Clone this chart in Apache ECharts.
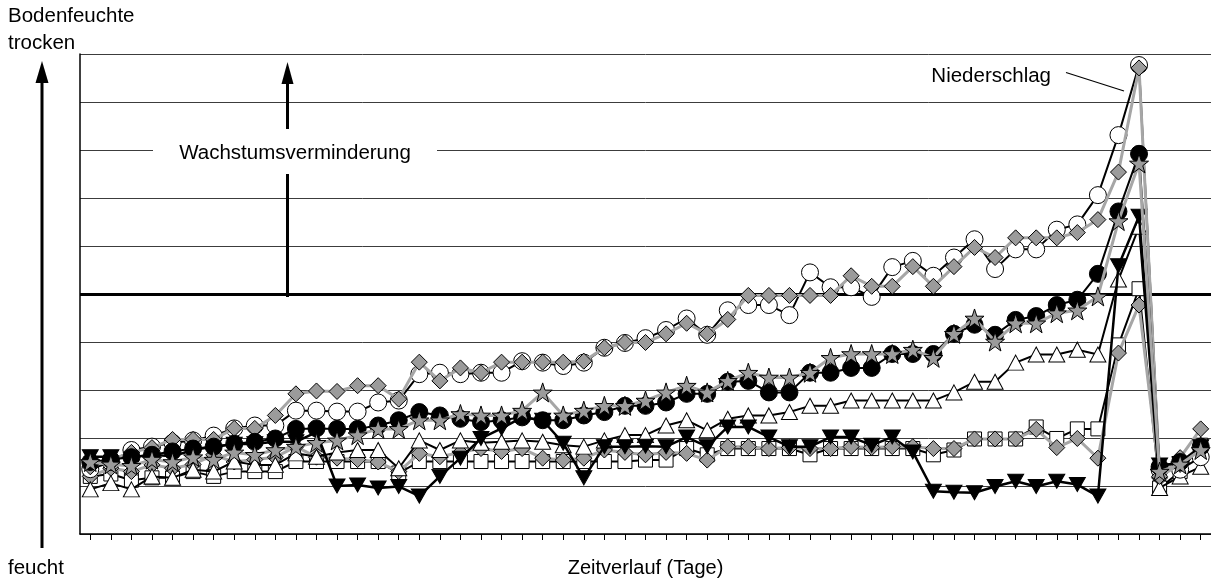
<!DOCTYPE html>
<html>
<head>
<meta charset="utf-8">
<script src="https://cdn.jsdelivr.net/npm/echarts@6/dist/echarts.min.js"></script>
<style>
  html, body { margin: 0; padding: 0; background: #fff; }
  #chart { width: 1211px; height: 583px; }
</style>
</head>
<body>
<div id="chart"></div>
<script>
// Tage (Kategorien der Zeitachse)
const days = Array.from({ length: 55 }, (_, i) => String(i + 1));

// Bodenfeuchte-Verläufe (0 = feucht, 10 = trocken)
const circleOpen = [1.35, 1.5, 1.75, 1.82, 1.9, 1.95, 2.05, 2.2, 2.26, 2.26,
  2.57, 2.57, 2.55, 2.55, 2.74, 2.78, 3.33, 3.36, 3.33, 3.36,
  3.36, 3.6, 3.57, 3.5, 3.57, 3.88, 3.98, 4.08, 4.25, 4.49,
  4.15, 4.66, 4.77, 4.77, 4.56, 5.45, 5.14, 5.14, 4.94, 5.56,
  5.69, 5.38, 5.76, 6.14, 5.52, 5.93, 5.93, 6.34, 6.45, 7.06,
  8.31, 9.77, 1.34, 1.34, 1.6];

const diamondUpper = [1.4, 1.55, 1.7, 1.8, 1.97, 1.97, 1.97, 2.2, 2.2, 2.47,
  2.92, 2.98, 2.97, 3.09, 3.09, 2.81, 3.58, 3.19, 3.46, 3.36,
  3.58, 3.58, 3.58, 3.58, 3.6, 3.88, 3.99, 3.99, 4.17, 4.39,
  4.17, 4.47, 4.97, 4.97, 4.97, 4.97, 4.97, 5.38, 5.16, 5.16,
  5.57, 5.16, 5.57, 5.97, 5.76, 6.17, 6.17, 6.17, 6.28, 6.55,
  7.54, 9.71, 1.2, 1.45, 1.85];

const circleFilled = [1.5, 1.55, 1.6, 1.65, 1.72, 1.78, 1.82, 1.88, 1.92, 1.99,
  2.19, 2.2, 2.19, 2.19, 2.26, 2.37, 2.54, 2.47, 2.40, 2.33,
  2.37, 2.43, 2.37, 2.37, 2.47, 2.54, 2.67, 2.67, 2.74, 2.92,
  2.92, 3.17, 3.19, 2.95, 2.95, 3.36, 3.36, 3.46, 3.46, 3.75,
  3.75, 3.75, 4.17, 4.36, 4.15, 4.46, 4.54, 4.77, 4.88, 5.42,
  6.72, 7.92, 1.4, 1.5, 1.82];

const stars = [1.5, 1.45, 1.42, 1.55, 1.5, 1.6, 1.55, 1.7, 1.65, 1.75,
  1.82, 1.9, 1.95, 2.06, 2.19, 2.19, 2.37, 2.37, 2.50, 2.47,
  2.47, 2.57, 2.95, 2.47, 2.57, 2.67, 2.67, 2.78, 2.95, 3.09,
  2.95, 3.19, 3.36, 3.26, 3.26, 3.36, 3.67, 3.75, 3.75, 3.75,
  3.84, 3.67, 4.17, 4.49, 4.01, 4.39, 4.39, 4.60, 4.66, 4.95,
  6.52, 7.72, 1.3, 1.45, 1.75];

const triUp = [0.93, 1.06, 0.93, 1.2, 1.17, 1.34, 1.3, 1.51, 1.44, 1.44,
  1.68, 1.61, 1.7, 1.75, 1.75, 1.37, 1.95, 1.75, 1.95, 1.9,
  1.92, 1.95, 1.92, 1.85, 1.82, 1.95, 2.06, 2.06, 2.26, 2.37,
  2.16, 2.40, 2.47, 2.47, 2.54, 2.67, 2.67, 2.78, 2.78, 2.78,
  2.78, 2.78, 2.95, 3.17, 3.17, 3.57, 3.74, 3.74, 3.84, 3.74,
  5.3, 6.4, 0.96, 1.2, 1.4];

const triDown = [1.61, 1.61, 1.6, 1.65, 1.62, 1.75, 1.82, 1.87, 1.88, 1.92,
  1.92, 2.12, 1.0, 1.02, 0.96, 0.99, 0.79, 1.2, 1.58, 1.99,
  2.2, 2.43, 2.37, 1.89, 1.17, 1.82, 1.82, 1.83, 1.82, 2.02,
  1.82, 2.23, 2.23, 2.02, 1.82, 1.82, 2.02, 2.02, 1.85, 2.02,
  1.71, 0.89, 0.87, 0.86, 0.99, 1.10, 0.99, 1.10, 1.03, 0.79,
  5.59, 6.62, 1.44, 1.47, 1.82];

const squares = [1.2, 1.25, 1.12, 1.17, 1.17, 1.3, 1.2, 1.3, 1.3, 1.3,
  1.51, 1.51, 1.51, 1.51, 1.51, 1.27, 1.51, 1.51, 1.51, 1.51,
  1.51, 1.51, 1.51, 1.51, 1.51, 1.51, 1.51, 1.54, 1.54, 1.78,
  1.65, 1.78, 1.78, 1.78, 1.78, 1.65, 1.78, 1.78, 1.78, 1.78,
  1.78, 1.65, 1.75, 1.98, 1.98, 1.98, 2.23, 1.99, 2.19, 2.19,
  3.94, 5.11, 0.96, 1.3, 1.85];

const diamondLower = [1.2, 1.37, 1.3, 1.44, 1.37, 1.45, 1.65, 1.5, 1.55, 1.6,
  1.82, 1.6, 1.58, 1.55, 1.5, 1.3, 1.68, 1.61, 1.7, 1.78,
  1.72, 1.78, 1.58, 1.54, 1.58, 1.75, 1.7, 1.65, 1.7, 1.68,
  1.54, 1.82, 1.82, 1.78, 1.8, 1.78, 1.78, 1.82, 1.8, 1.82,
  1.82, 1.78, 1.78, 1.98, 1.98, 1.98, 2.18, 1.8, 1.99, 1.58,
  3.77, 4.77, 1.17, 1.59, 2.19];

// Schwelle der Wachstumsverminderung
const threshold = 5;

const FONT = '"Liberation Sans", Arial, sans-serif';
const LABEL_FONT = '20.5px ' + FONT;
const GRAY = '#9b9b9b';
const GRAY_LINE = '#a6a6a6';
const STAR = 'path://M50,0 L61.8,35.2 L98.9,35.5 L69.1,57.6 L80.2,93.1 L50,71.5 L19.8,93.1 L30.9,57.6 L1.1,35.5 L38.2,35.2 Z';

function lineSeries(name, data, cfg) {
  return {
    name,
    type: 'line',
    data,
    z: cfg.z,
    symbol: cfg.symbol,
    symbolSize: cfg.size,
    symbolRotate: cfg.rotate || 0,
    showAllSymbol: true,
    lineStyle: { color: cfg.lineColor, width: cfg.lineWidth },
    itemStyle: { color: cfg.fill, borderColor: '#000', borderWidth: 1 },
    emphasis: { disabled: true },
    silent: true
  };
}

const series = [
  lineSeries('Quadrate', squares, { z: 3, symbol: 'rect', size: 14, lineColor: '#000', lineWidth: 2, fill: '#fff' }),
  lineSeries('Rauten unten', diamondLower, { z: 4, symbol: 'diamond', size: 16, lineColor: GRAY_LINE, lineWidth: 3, fill: GRAY }),
  lineSeries('Dreiecke', triUp, { z: 5, symbol: 'triangle', size: [16, 15], lineColor: '#000', lineWidth: 2, fill: '#fff' }),
  lineSeries('Dreiecke invers', triDown, { z: 6, symbol: 'triangle', size: [16, 14], rotate: 180, lineColor: '#000', lineWidth: 2.5, fill: '#000' }),
  lineSeries('Kreise offen', circleOpen, { z: 7, symbol: 'circle', size: 17, lineColor: '#000', lineWidth: 2, fill: '#fff' }),
  lineSeries('Rauten oben', diamondUpper, { z: 8, symbol: 'diamond', size: 16, lineColor: GRAY_LINE, lineWidth: 3, fill: GRAY }),
  lineSeries('Kreise gefuellt', circleFilled, { z: 9, symbol: 'circle', size: 17, lineColor: '#000', lineWidth: 2, fill: '#000' }),
  lineSeries('Sterne', stars, { z: 10, symbol: STAR, size: 19, lineColor: GRAY_LINE, lineWidth: 3, fill: GRAY })
];

// dicke Linie: Beginn der Wachstumsverminderung
series[0].markLine = {
  silent: true,
  z: 2,
  symbol: ['none', 'none'],
  label: { show: false },
  lineStyle: { color: '#000', width: 3, type: 'solid' },
  data: [{ yAxis: threshold }]
};

const chart = echarts.init(document.getElementById('chart'), null, { renderer: 'canvas' });

chart.setOption({
  animation: false,
  backgroundColor: '#fff',
  grid: { left: 80, right: 0, top: 54, bottom: 43, containLabel: false },
  xAxis: {
    type: 'category',
    data: days,
    boundaryGap: true,
    name: 'Zeitverlauf (Tage)',
    nameLocation: 'middle',
    nameGap: 24,
    nameTextStyle: { fontFamily: FONT, fontSize: 20, color: '#000' },
    axisLine: { show: true, lineStyle: { color: '#000', width: 1.5 } },
    axisTick: { show: true, alignWithLabel: true, length: 6, lineStyle: { color: '#000', width: 1 } },
    axisLabel: { show: false },
    splitLine: { show: false }
  },
  yAxis: {
    type: 'value',
    min: 0,
    max: 10,
    interval: 1,
    axisLine: { show: true, lineStyle: { color: '#000', width: 1.5 } },
    axisTick: { show: false },
    axisLabel: { show: false },
    splitLine: { show: true, lineStyle: { color: '#3c3c3c', width: 1 } }
  },
  series,
  graphic: [
    // linker Pfeil: feucht -> trocken
    { type: 'line', z: 50, shape: { x1: 42, y1: 548, x2: 42, y2: 78 }, style: { stroke: '#000', lineWidth: 3 } },
    { type: 'polygon', z: 50, shape: { points: [[42, 61], [35.5, 83], [48.5, 83]] }, style: { fill: '#000' } },
    // Pfeil Wachstumsverminderung
    { type: 'line', z: 50, shape: { x1: 287.5, y1: 297, x2: 287.5, y2: 80 }, style: { stroke: '#000', lineWidth: 3 } },
    { type: 'polygon', z: 50, shape: { points: [[287.5, 62], [281.5, 84], [293.5, 84]] }, style: { fill: '#000' } },
    { type: 'rect', z: 60, shape: { x: 153, y: 129, width: 284, height: 45 }, style: { fill: '#fff' } },
    { type: 'text', z: 70, style: { x: 295, y: 153, text: 'Wachstumsverminderung', textAlign: 'center', textVerticalAlign: 'middle', font: LABEL_FONT, fill: '#000' } },
    // Niederschlag
    { type: 'text', z: 70, style: { x: 1051, y: 76, text: 'Niederschlag', textAlign: 'right', textVerticalAlign: 'middle', font: LABEL_FONT, fill: '#000' } },
    { type: 'line', z: 70, shape: { x1: 1066, y1: 72.5, x2: 1124, y2: 91 }, style: { stroke: '#000', lineWidth: 1.2 } },
    // Achsbeschriftungen Bodenfeuchte
    { type: 'text', z: 70, style: { x: 8, y: 16, text: 'Bodenfeuchte', textAlign: 'left', textVerticalAlign: 'middle', font: LABEL_FONT, fill: '#000' } },
    { type: 'text', z: 70, style: { x: 8, y: 43.5, text: 'trocken', textAlign: 'left', textVerticalAlign: 'middle', font: LABEL_FONT, fill: '#000' } },
    { type: 'text', z: 70, style: { x: 8, y: 568, text: 'feucht', textAlign: 'left', textVerticalAlign: 'middle', font: LABEL_FONT, fill: '#000' } }
  ]
});
</script>
</body>
</html>
